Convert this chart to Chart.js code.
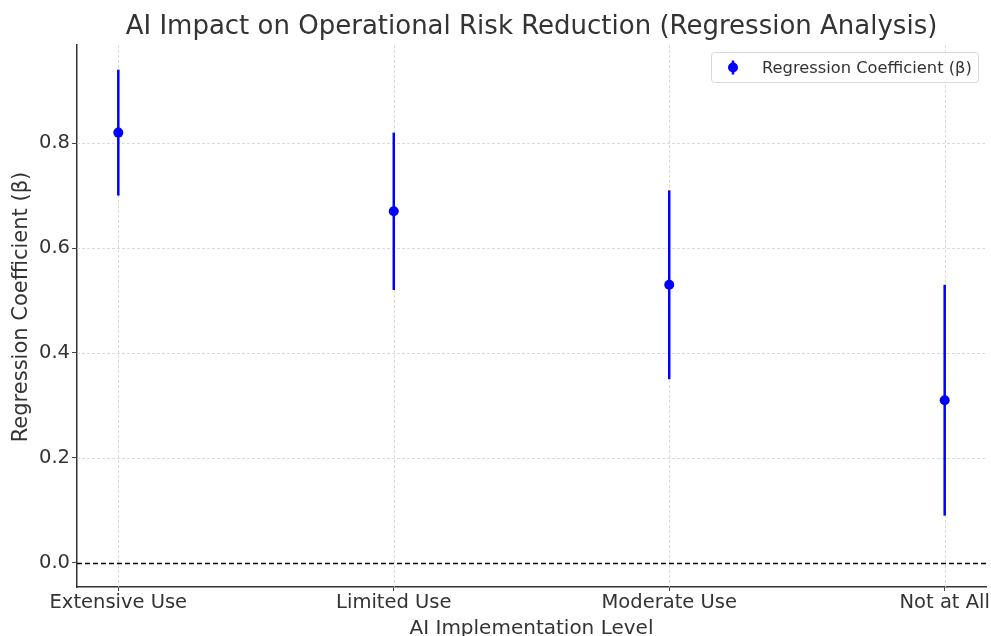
<!DOCTYPE html>
<html>
<head>
<meta charset="utf-8">
<script src="https://cdn.jsdelivr.net/npm/chart.js@4.4.1/dist/chart.umd.min.js"></script>
<style>
  html, body { margin: 0; padding: 0; background: #fff; }
  #wrap { width: 991px; height: 636px; }
</style>
</head>
<body>
<div id="wrap"><canvas id="c" width="991" height="636"></canvas></div>
<script>
// values
const categories = ['Extensive Use', 'Limited Use', 'Moderate Use', 'Not at All'];
const coefficients = [0.82, 0.67, 0.53, 0.31];
const ciLower = [0.70, 0.52, 0.35, 0.09];
const ciUpper = [0.94, 0.82, 0.71, 0.53];
const yTicks = [0.0, 0.2, 0.4, 0.6, 0.8];

const chartTitle = 'AI Impact on Operational Risk Reduction (Regression Analysis)';
const yTitle = 'Regression Coefficient (β)';

const FONT = "'DejaVu Sans', sans-serif";
const BLUE = '#0000ff';

// error bars, grid and zero line drawn through the scales
const errorBars = {
  id: 'errorBars',
  beforeDatasetsDraw(chart) {
    const {ctx, chartArea: a, scales: {x, y}} = chart;
    ctx.save();
    ctx.lineWidth = 0.8;
    ctx.strokeStyle = '#d0d0d0';
    ctx.setLineDash([3, 2]);
    x.ticks.forEach(t => {
      const px = Math.round(x.getPixelForValue(t.value)) + 0.5;
      ctx.beginPath(); ctx.moveTo(px, a.top); ctx.lineTo(px, a.bottom); ctx.stroke();
    });
    y.ticks.forEach(t => {
      if (t.value === 0) return;
      const py = Math.round(y.getPixelForValue(t.value)) + 0.5;
      ctx.beginPath(); ctx.moveTo(a.left, py); ctx.lineTo(a.right, py); ctx.stroke();
    });
    // zero reference line
    ctx.strokeStyle = '#000';
    ctx.lineWidth = 1.3;
    ctx.setLineDash([5, 3]);
    const y0 = Math.round(y.getPixelForValue(0)) + 0.5;
    ctx.beginPath(); ctx.moveTo(a.left, y0); ctx.lineTo(a.right, y0); ctx.stroke();
    ctx.setLineDash([]);
    // vertical error bars, no caps
    ctx.strokeStyle = BLUE;
    ctx.lineWidth = 2.5;
    coefficients.forEach((v, i) => {
      const px = x.getPixelForValue(i);
      ctx.beginPath();
      ctx.moveTo(px, y.getPixelForValue(ciLower[i]));
      ctx.lineTo(px, y.getPixelForValue(ciUpper[i]));
      ctx.stroke();
    });
    ctx.restore();
  },
  afterDraw(chart) {
    const {ctx, chartArea: a} = chart;
    ctx.save();
    // title centred over the plot area
    ctx.fillStyle = '#333';
    ctx.font = '26px ' + FONT;
    ctx.textAlign = 'center';
    ctx.textBaseline = 'middle';
    ctx.fillText(chartTitle, (a.left + a.right) / 2, 27);
    // y axis title
    ctx.save();
    ctx.translate(22, 307);
    ctx.rotate(-Math.PI / 2);
    ctx.font = '21px ' + FONT;
    ctx.fillText(yTitle, 0, 0);
    ctx.restore();
    // legend box in the upper right corner of the plot
    const label = chart.data.datasets[0].label;
    const bx = 711.5, by = 52.5, bw = 267, bh = 30;
    ctx.fillStyle = 'rgba(255,255,255,0.8)';
    ctx.strokeStyle = '#d8d8d8';
    ctx.lineWidth = 1;
    ctx.beginPath();
    ctx.roundRect(bx, by, bw, bh, 3);
    ctx.fill(); ctx.stroke();
    const mx = 733, my = by + bh / 2;
    ctx.strokeStyle = BLUE; ctx.lineWidth = 2.5;
    ctx.beginPath(); ctx.moveTo(mx, my - 7); ctx.lineTo(mx, my + 7); ctx.stroke();
    ctx.fillStyle = BLUE;
    ctx.beginPath(); ctx.arc(mx, my, 5, 0, Math.PI * 2); ctx.fill();
    ctx.fillStyle = '#333';
    ctx.font = '16.3px ' + FONT;
    ctx.textAlign = 'left';
    ctx.fillText(label, 762, my + 1);
    ctx.restore();
  }
};

new Chart(document.getElementById('c'), {
  type: 'scatter',
  data: {
    datasets: [{
      label: 'Regression Coefficient (β)',
      data: coefficients.map((v, i) => ({x: i, y: v})),
      backgroundColor: BLUE,
      borderColor: BLUE,
      pointRadius: 5,
      pointHoverRadius: 5,
      borderWidth: 0
    }]
  },
  options: {
    responsive: false,
    animation: false,
    layout: {padding: {left: 0, right: 4, top: 45, bottom: 0}},
    plugins: {
      legend: {display: false},
      tooltip: {enabled: false},
      title: {display: false}
    },
    scales: {
      x: {
        type: 'linear',
        min: -0.15,
        max: 3.15,
        afterBuildTicks(s) { s.ticks = categories.map((c, i) => ({value: i})); },
        afterFit(s) { s.height = 49; },
        ticks: {
          callback: v => categories[v],
          color: '#333',
          font: {family: FONT, size: 19.5},
          padding: 0,
          maxRotation: 0,
          autoSkip: false
        },
        grid: {display: true, drawOnChartArea: false, tickLength: 4, color: '#444', lineWidth: 1},
        border: {display: true, color: '#333', width: 1.5},
        title: {
          display: true,
          text: 'AI Implementation Level',
          color: '#333',
          font: {family: FONT, size: 20},
          padding: {top: 0, bottom: -5}
        }
      },
      y: {
        min: -0.046,
        max: 0.987,
        afterBuildTicks(s) { s.ticks = yTicks.map(v => ({value: v})); },
        afterFit(s) { s.width = 77; },
        ticks: {
          callback: v => v.toFixed(1),
          color: '#333',
          font: {family: FONT, size: 19.5},
          padding: 2
        },
        grid: {display: true, drawOnChartArea: false, tickLength: 5, color: '#444', lineWidth: 1},
        border: {display: true, color: '#333', width: 1.5}
      }
    }
  },
  plugins: [errorBars]
});
</script>
</body>
</html>
